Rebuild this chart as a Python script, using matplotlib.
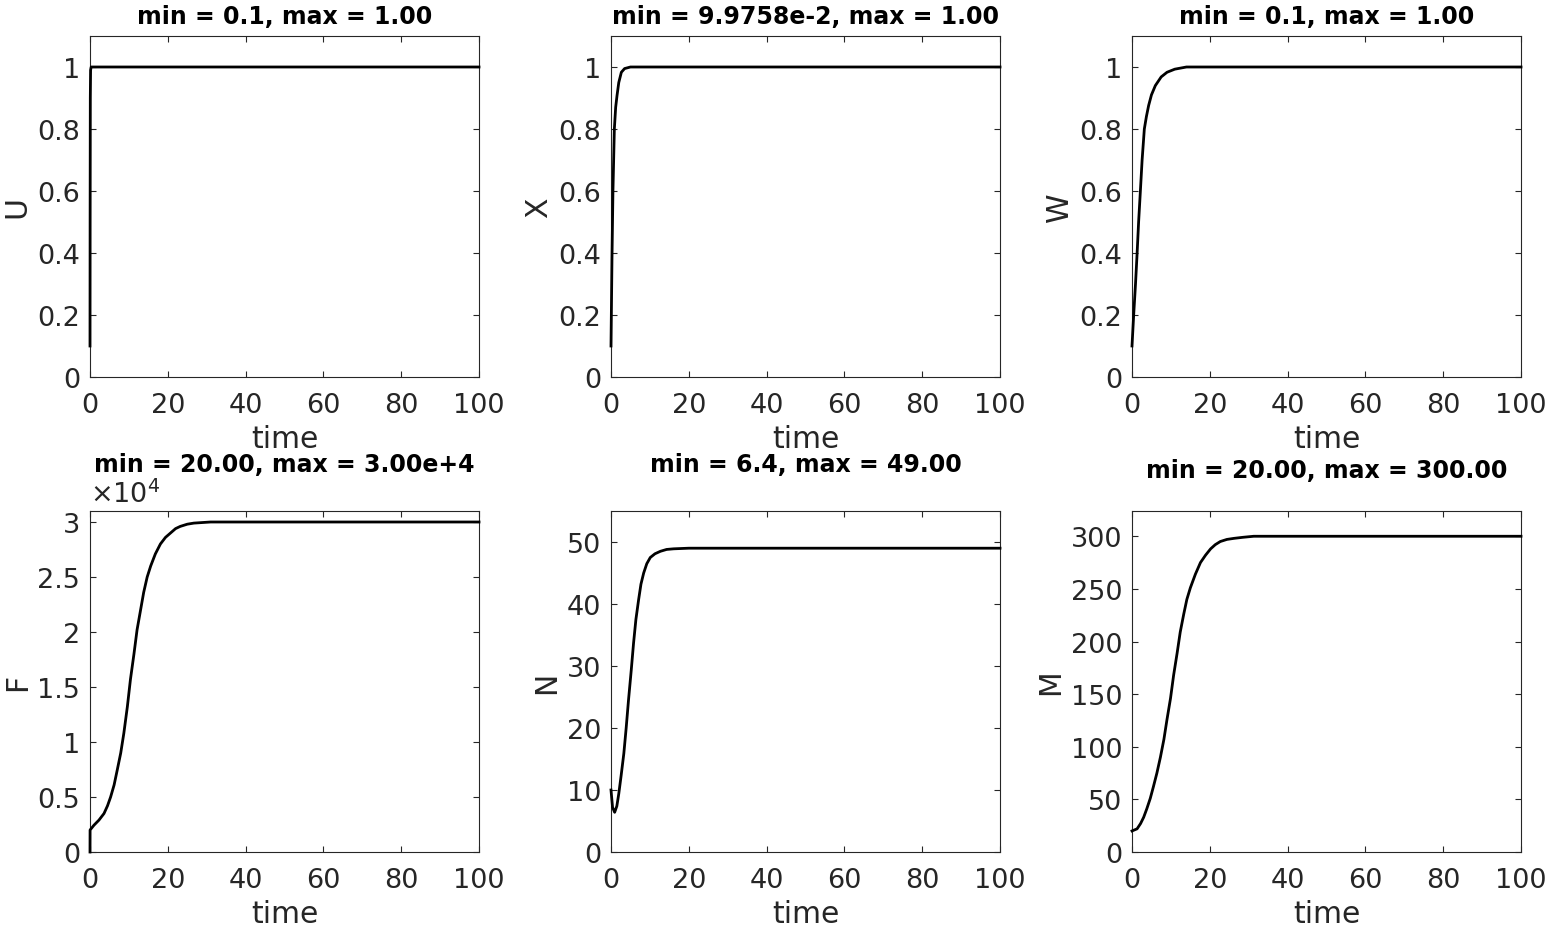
import numpy as np
import matplotlib
matplotlib.use("Agg")
import matplotlib.pyplot as plt
from matplotlib.ticker import FuncFormatter

# Values
t_U = [0, 0.03, 0.08, 0.15, 0.3, 100]
U = [0.1, 0.5, 0.9, 0.99, 1.0, 1.0]

t_X = [0, 0.25, 0.5, 0.86, 1.2, 1.54, 2.0, 2.66, 3.5, 5, 8, 100]
X = [0.1, 0.38, 0.6, 0.8, 0.87, 0.907, 0.95, 0.983, 0.995, 1.0, 1.0, 1.0]

t_W = [0, 0.43, 0.9, 1.29, 1.7, 2.14, 2.6, 3.17, 3.7, 4.28, 5.0, 6.0, 7.5, 9, 11, 14, 20, 100]
W = [0.1, 0.2, 0.3, 0.393, 0.5, 0.597, 0.7, 0.8, 0.84, 0.876, 0.91, 0.94, 0.968, 0.983, 0.993, 1.0, 1.0, 1.0]

t_F = [0, 0.02, 1.0, 2.3, 3.6, 4.5, 5.3, 6.2, 7.0, 7.9, 8.7, 9.6, 10.4, 11.3, 12.1, 13.0, 13.8,
       14.7, 15.6, 16.8, 18.1, 19.4, 20.7, 22.0, 23.2, 25.0, 26.7, 31, 40, 100]
F = [0, 2000, 2430, 2900, 3500, 4200, 5000, 6100, 7450, 9000, 10800, 13200, 15700, 18000, 20200,
     22000, 23600, 25000, 26000, 27100, 28000, 28600, 29000, 29400, 29600, 29800, 29900, 30000, 30000, 30000]

t_N = [0, 0.4, 0.94, 1.5, 2.0, 2.6, 3.3, 3.9, 4.5, 5.2, 5.8, 6.4, 7.1, 7.7, 8.4, 9.2, 10.1, 11.3,
       12.7, 14.3, 16.1, 20, 100]
N = [10.0, 7.2, 6.4, 7.4, 9.4, 12.3, 15.9, 20.0, 24.5, 29.3, 33.7, 37.5, 40.7, 43.2, 45.0, 46.5,
     47.5, 48.1, 48.5, 48.8, 48.9, 49.0, 49.0]

t_M = [0, 1.3, 2.2, 3.0, 3.8, 4.7, 5.5, 6.4, 7.3, 8.2, 9.0, 9.9, 10.7, 11.6, 12.4, 13.3, 14.1, 15.0,
       16.3, 17.6, 18.9, 20.2, 21.4, 22.7, 24.4, 26.2, 28.5, 31.3, 40, 100]
M = [20, 22, 27, 33, 41, 51, 62, 75, 90, 107, 126, 146, 168, 189, 209, 226, 240, 251, 264, 275,
     282, 288, 292, 295, 297, 298, 299, 300, 300, 300]

frac_ticks = [0, 0.2, 0.4, 0.6, 0.8, 1]
panels = [
    (t_U, U, "U", "min = 0.1, max = 1.00", 1.1, frac_ticks),
    (t_X, X, "X", "min = 9.9758e-2, max = 1.00", 1.1, frac_ticks),
    (t_W, W, "W", "min = 0.1, max = 1.00", 1.1, frac_ticks),
    (t_F, F, "F", "min = 20.00, max = 3.00e+4", 31000, [0, 5000, 10000, 15000, 20000, 25000, 30000]),
    (t_N, N, "N", "min = 6.4, max = 49.00", 55, [0, 10, 20, 30, 40, 50]),
    (t_M, M, "M", "min = 20.00, max = 300.00", 324, [0, 50, 100, 150, 200, 250, 300]),
]
title_y = [17, 17, 17, 465, 465, 471]  # title centre, pixels from top

W_PX, H_PX = 1553, 929
fig = plt.figure(figsize=(W_PX / 100, H_PX / 100), dpi=100)
fig.patch.set_facecolor("white")

lefts = [90, 611, 1132]
tops = [37, 512]
ax_w, ax_h = 389, 341
gray = "#262626"
fs_tick = 19.5

for i, (tt, yy, lab, title, ytop, yticks) in enumerate(panels):
    r, c = divmod(i, 3)
    ax = fig.add_axes([lefts[c] / W_PX, 1 - (tops[r] + ax_h) / H_PX, ax_w / W_PX, ax_h / H_PX])
    ax.plot(tt, yy, color="black", lw=2.0, clip_on=False, zorder=3)
    ax.set_xlim(0, 100)
    ax.set_ylim(0, ytop)
    ax.set_xticks([0, 20, 40, 60, 80, 100])
    ax.set_yticks(yticks)
    if lab == "F":
        ax.yaxis.set_major_formatter(FuncFormatter(lambda v, p: f"{v / 1e4:g}"))
        ax.text(0.0, 1 + (512 - 503) / ax_h, "\u00d710$^{4}$", transform=ax.transAxes,
                ha="left", va="baseline", fontsize=fs_tick, color=gray)
    else:
        ax.yaxis.set_major_formatter(FuncFormatter(lambda v, p: f"{v:g}"))
    ax.tick_params(direction="in", top=True, right=True, length=4, width=0.8,
                   labelsize=fs_tick, colors=gray)
    ax.tick_params(axis="x", pad=11)
    ax.tick_params(axis="y", pad=7)
    for s in ax.spines.values():
        s.set_color(gray)
        s.set_linewidth(0.8)
    ax.set_xlabel("time", fontsize=21.5, color=gray, labelpad=4)
    ax.set_ylabel(lab, fontsize=21.5, color=gray, labelpad=4)
    ax.text(0.5, 1 + (tops[r] - title_y[i]) / ax_h, title, transform=ax.transAxes,
            ha="center", va="center", fontsize=17, fontweight="bold", color="black")

fig.savefig("out.png", dpi=100)
